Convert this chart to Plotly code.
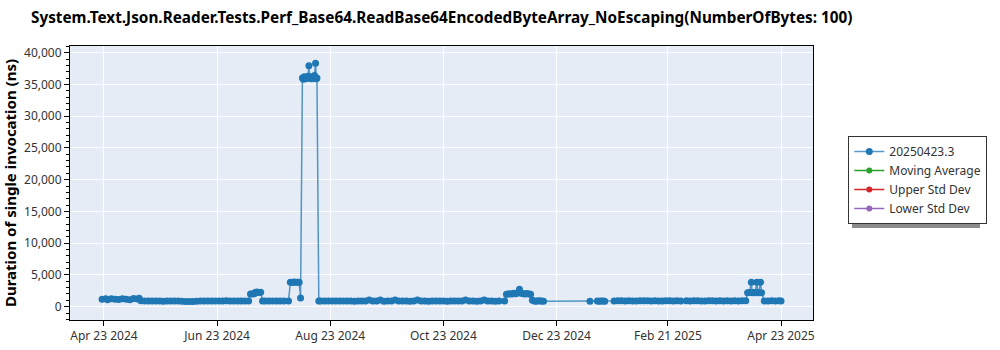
import plotly.graph_objects as go

TITLE = "System.Text.Json.Reader.Tests.Perf_Base64.ReadBase64EncodedByteArray_NoEscaping(NumberOfBytes: 100)"
SERIES_NAME = "20250423.3"
Y_TITLE = "Duration of single invocation (ns)"

dates = [
    # Apr-May 2024
    "2024-04-22", "2024-04-24", "2024-04-25", "2024-04-27", "2024-04-29", "2024-05-01",
    "2024-05-03", "2024-05-05", "2024-05-07", "2024-05-09", "2024-05-11", "2024-05-12",
    # May-Jul 2024 baseline
    "2024-05-13", "2024-05-15", "2024-05-17", "2024-05-19", "2024-05-21", "2024-05-23",
    "2024-05-25", "2024-05-27", "2024-05-29", "2024-05-31", "2024-06-02", "2024-06-04",
    "2024-06-06", "2024-06-08", "2024-06-10", "2024-06-12", "2024-06-14", "2024-06-16",
    "2024-06-18", "2024-06-20", "2024-06-22", "2024-06-24", "2024-06-26", "2024-06-28",
    "2024-06-30", "2024-07-02", "2024-07-04", "2024-07-06", "2024-07-08", "2024-07-10",
    # Jul bump
    "2024-07-11 00:00", "2024-07-12 00:00", "2024-07-13 00:00", "2024-07-13 12:00",
    "2024-07-14 12:00", "2024-07-15 12:00", "2024-07-16 12:00",
    "2024-07-17 12:00", "2024-07-19", "2024-07-21", "2024-07-23", "2024-07-25", "2024-07-27",
    "2024-07-29", "2024-07-31 12:00",
    # Aug step + spike
    "2024-08-01 12:00", "2024-08-02 12:00", "2024-08-03 12:00", "2024-08-04 12:00",
    "2024-08-05 12:00", "2024-08-06 06:00",
    "2024-08-07 00:00",
    "2024-08-08 00:00", "2024-08-08 12:00", "2024-08-09 00:00", "2024-08-09 12:00",
    "2024-08-10 00:00", "2024-08-10 12:00", "2024-08-11 00:00", "2024-08-11 12:00",
    "2024-08-12 00:00", "2024-08-12 12:00", "2024-08-13 00:00", "2024-08-13 12:00",
    "2024-08-14 00:00", "2024-08-14 12:00", "2024-08-15 02:00", "2024-08-15 12:00",
    "2024-08-15 20:00",
    # Aug-Nov baseline
    "2024-08-16 20:00", "2024-08-18", "2024-08-20", "2024-08-22", "2024-08-24", "2024-08-26",
    "2024-08-28", "2024-08-30", "2024-09-01", "2024-09-03", "2024-09-05", "2024-09-07",
    "2024-09-09", "2024-09-11", "2024-09-13", "2024-09-15", "2024-09-17", "2024-09-19",
    "2024-09-21", "2024-09-23", "2024-09-25", "2024-09-27", "2024-09-29", "2024-10-01",
    "2024-10-03", "2024-10-05", "2024-10-07", "2024-10-09", "2024-10-11", "2024-10-13",
    "2024-10-15", "2024-10-17", "2024-10-19", "2024-10-21", "2024-10-23", "2024-10-25",
    "2024-10-27", "2024-10-29", "2024-10-31", "2024-11-02", "2024-11-04", "2024-11-06",
    "2024-11-08", "2024-11-10", "2024-11-12", "2024-11-14", "2024-11-16", "2024-11-18",
    "2024-11-20", "2024-11-22", "2024-11-25",
    # Nov-Dec bump
    "2024-11-26", "2024-11-27", "2024-11-28", "2024-11-29", "2024-11-30", "2024-12-01",
    "2024-12-02", "2024-12-03", "2024-12-04", "2024-12-05", "2024-12-06", "2024-12-07",
    "2024-12-08", "2024-12-09",
    "2024-12-10", "2024-12-11", "2024-12-12", "2024-12-13", "2024-12-14", "2024-12-15", "2024-12-16",
    # Jan 2025
    "2025-01-10", "2025-01-14", "2025-01-15", "2025-01-16", "2025-01-17", "2025-01-18",
    "2025-01-23", "2025-01-25", "2025-01-27", "2025-01-29", "2025-01-31", "2025-02-02",
    "2025-02-04", "2025-02-06", "2025-02-08", "2025-02-10", "2025-02-12", "2025-02-14",
    "2025-02-16", "2025-02-18", "2025-02-20", "2025-02-22", "2025-02-24", "2025-02-26",
    "2025-02-28", "2025-03-03", "2025-03-05", "2025-03-07", "2025-03-09", "2025-03-11",
    "2025-03-13", "2025-03-15", "2025-03-17", "2025-03-19", "2025-03-21", "2025-03-23",
    "2025-03-25", "2025-03-27", "2025-03-29", "2025-03-31", "2025-04-02", "2025-04-04",
    # Apr 2025 bump
    "2025-04-05 00:00", "2025-04-06 00:00", "2025-04-07 00:00", "2025-04-07 12:00",
    "2025-04-08 00:00", "2025-04-09 00:00", "2025-04-10 00:00", "2025-04-10 12:00",
    "2025-04-11 00:00", "2025-04-12 00:00", "2025-04-12 12:00",
    "2025-04-14", "2025-04-16", "2025-04-18", "2025-04-20", "2025-04-22", "2025-04-23",
]

durations_ns = [
    1150, 1230, 1100, 1260, 1180, 1120,
    1250, 1150, 1090, 1300, 1200, 1320,
    950, 900, 880, 910, 890, 900,
    870, 900, 910, 880, 900, 860,
    820, 800, 810, 850, 880, 900,
    890, 900, 910, 880, 900, 920,
    890, 900, 880, 910, 900, 890,
    1980, 2000, 2050, 2250, 2300, 2250, 2280,
    900, 880, 910, 890, 900, 880,
    900, 910,
    3850, 3820, 3880, 3840, 3860, 3830,
    1350,
    36000, 35800, 36200, 35900,
    36100, 35950, 36300, 37950,
    36000, 36200, 35900, 36100,
    36000, 36400, 38330, 35900,
    36000,
    900, 880, 910, 890, 900, 880,
    900, 910, 880, 900, 870, 890,
    900, 880, 1050, 880, 900, 1050,
    870, 900, 880, 1050, 890, 880,
    900, 870, 880, 1050, 900, 880,
    870, 900, 880, 880, 900, 870,
    880, 900, 890, 880, 1050, 880,
    900, 870, 880, 1050, 900, 880,
    870, 880, 900,
    1950, 2000, 2050, 1980, 2100, 2050,
    2150, 2750, 2100, 2050, 2000, 2080,
    2000, 1950,
    1000, 900, 850, 950, 880, 900, 870,
    850, 900, 850, 880, 900, 860,
    900, 950, 920, 900, 940, 910,
    900, 930, 950, 920, 900, 940,
    910, 900, 950, 920, 900, 930,
    910, 940, 900, 920, 950, 910,
    900, 930, 920, 900, 940, 910,
    920, 900, 930, 910, 940, 920,
    2200, 2250, 3850, 2200,
    2250, 2200, 3850, 2250,
    2200, 3850, 2200,
    900, 880, 920, 900, 950, 880,
]

tick_dates = ["2024-04-23", "2024-06-23", "2024-08-23", "2024-10-23",
              "2024-12-23", "2025-02-21", "2025-04-23"]
tick_labels = ["Apr 23 2024", "Jun 23 2024", "Aug 23 2024", "Oct 23 2024",
               "Dec 23 2024", "Feb 21 2025", "Apr 23 2025"]

extra_series = [("Moving Average", "#2ca02c"),
                ("Upper Std Dev", "#d62728"),
                ("Lower Std Dev", "#9467bd")]

FONT = "Noto Sans"

fig = go.Figure()
fig.add_trace(go.Scatter(
    x=dates, y=durations_ns, name=SERIES_NAME, mode="lines+markers",
    line=dict(color="rgba(31,119,180,0.75)", width=1.5),
    marker=dict(color="#1f77b4", size=7),
))
for nm, col in extra_series:
    fig.add_trace(go.Scatter(
        x=[None], y=[None], name=nm, mode="lines+markers",
        line=dict(color=col, width=1.5), marker=dict(color=col, size=6),
    ))

# legend drop shadow (paper coordinates, offset ~3 px right/down); legend draws on top
fig.add_shape(type="rect", xref="paper", yref="paper",
              x0=1.0525, x1=1.2248, y0=0.3358, y1=0.6606,
              fillcolor="#8a8a8a", line=dict(width=0), layer="above")

fig.update_layout(
    width=1000, height=350,
    margin=dict(l=70, r=187, t=46, b=30),
    paper_bgcolor="white", plot_bgcolor="#e5ecf6",
    font=dict(family=FONT, size=12, color="#333333"),
    title=dict(text="<b>" + TITLE + "</b>", x=0.031, xanchor="left",
               y=0.95, yanchor="middle", xref="container", yref="container",
               font=dict(family=FONT, size=15.3, color="black")),
    showlegend=True,
    legend=dict(x=1.0475, y=0.6715, xanchor="left", yanchor="top",
                bgcolor="white", bordercolor="#333333", borderwidth=1,
                font=dict(family=FONT, size=12, color="#333333"),
                itemwidth=30),
    xaxis=dict(
        type="date", range=["2024-04-04 17:00", "2025-05-10 06:00"],
        tickvals=tick_dates, ticktext=tick_labels, automargin=False,
        showgrid=True, gridcolor="white", gridwidth=1,
        showline=True, linecolor="black", linewidth=1, mirror=True,
        ticks="outside", ticklen=5, tickcolor="black",
        zeroline=False,
    ),
    yaxis=dict(
        range=[-2100, 41050], dtick=5000, tickformat=",", automargin=False,
        showgrid=True, gridcolor="white", gridwidth=1,
        showline=True, linecolor="black", linewidth=1, mirror=True,
        ticks="outside", ticklen=5, tickcolor="black",
        minor=dict(dtick=1000, ticks="outside", ticklen=3, tickcolor="black", showgrid=False),
        zeroline=False,
        title=dict(text="<b>" + Y_TITLE + "</b>", standoff=8,
                   font=dict(family=FONT, size=15, color="black")),
    ),
)

fig.write_html("out.html")
